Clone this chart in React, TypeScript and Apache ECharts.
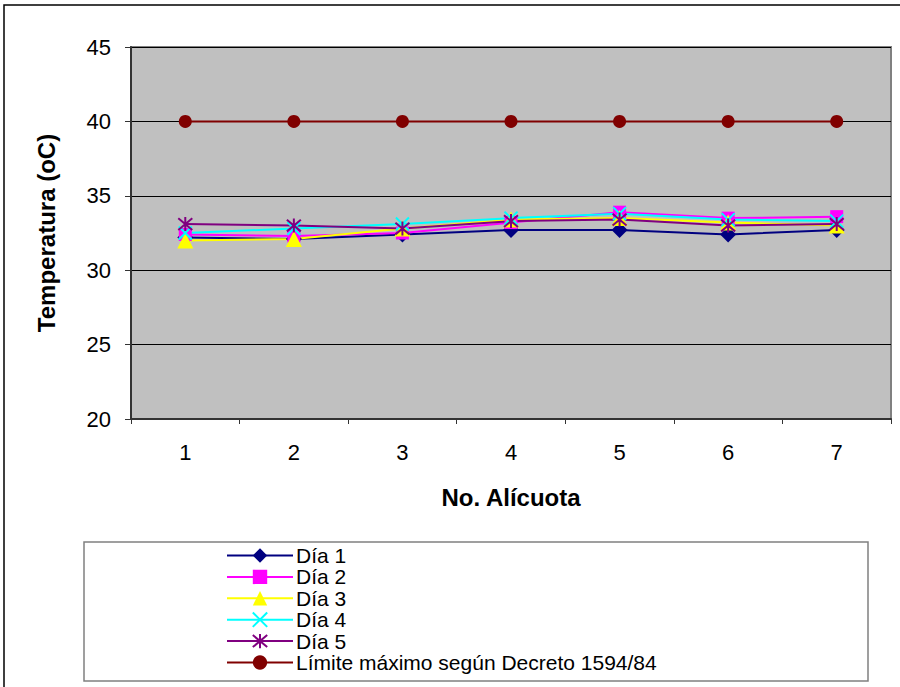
import React, { useEffect, useRef } from "react";
import * as echarts from "echarts";

const categories = ["1", "2", "3", "4", "5", "6", "7"];
const dia1 = [32.2, 32.1, 32.4, 32.7, 32.7, 32.4, 32.7];
const dia2 = [32.4, 32.3, 32.5, 33.2, 33.9, 33.5, 33.6];
const dia3 = [32.0, 32.1, 32.8, 33.4, 33.5, 33.2, 33.0];
const dia4 = [32.5, 32.8, 33.1, 33.5, 33.8, 33.4, 33.3];
const dia5 = [33.1, 33.0, 32.8, 33.3, 33.4, 33.0, 33.1];
const limite = [40, 40, 40, 40, 40, 40, 40];

const FONT = "'Liberation Sans', Arial, sans-serif";
const X_PATH = "path://M0 0 L10 10 M10 0 L0 10";
const STAR_PATH = "path://M0 0 L10 10 M10 0 L0 10 M5 -1 L5 11";

export default function App() {
  const ref = useRef<HTMLDivElement>(null);
  useEffect(() => {
    const chart = echarts.init(ref.current!, null, { renderer: "svg" });
    const mk = (name: string, data: number[], color: string, symbol: string, size: number, stroke = false) => ({
      name,
      type: "line",
      data,
      symbol,
      symbolSize: size,
      lineStyle: { color, width: 2 },
      itemStyle: stroke
        ? { color: "none", borderColor: color, borderWidth: 2 }
        : { color, borderColor: color, borderWidth: 0 },
      emphasis: { disabled: true },
    });
    chart.setOption({
      animation: false,
      textStyle: { fontFamily: FONT },
      graphic: [
        { type: "rect", shape: { x: 4, y: 5, width: 1000, height: 1000 }, style: { fill: "none", stroke: "#000", lineWidth: 1.5 }, silent: true },
        { type: "rect", shape: { x: 84, y: 542, width: 784, height: 139 }, style: { fill: "#fff", stroke: "#808080", lineWidth: 1.5 }, silent: true },
      ],
      grid: {
        left: 131,
        top: 47,
        right: 9,
        bottom: 268,
        show: true,
        backgroundColor: "#C0C0C0",
        borderColor: "#808080",
        borderWidth: 2,
      },
      legend: {
        orient: "vertical",
        left: 226,
        top: 545,
        height: 140,
        itemWidth: 66,
        itemHeight: 18,
        itemGap: 0.4,
        padding: 0,
        textStyle: { fontSize: 21, fontFamily: FONT, color: "#000", padding: [0, 0, 0, -2] },
        data: ["Día 1", "Día 2", "Día 3", "Día 4", "Día 5", "Límite máximo según Decreto 1594/84"],
      },
      xAxis: {
        type: "category",
        data: categories,
        boundaryGap: true,
        name: "No. Alícuota",
        nameLocation: "middle",
        nameGap: 66,
        nameTextStyle: { fontSize: 24, fontWeight: "bold", color: "#000", fontFamily: FONT },
        axisLine: { lineStyle: { color: "#333", width: 2 } },
        axisTick: { show: true, length: 5, lineStyle: { color: "#333" } },
        axisLabel: { fontSize: 22, color: "#000", margin: 22, fontFamily: FONT },
        splitLine: { show: false },
      },
      yAxis: {
        type: "value",
        min: 20,
        max: 45,
        interval: 5,
        name: "Temperatura (oC)",
        nameLocation: "middle",
        nameGap: 73,
        nameTextStyle: { fontSize: 24, fontWeight: "bold", color: "#000", fontFamily: FONT },
        axisLine: { show: true, lineStyle: { color: "#333", width: 2 } },
        axisTick: { show: true, length: 6, lineStyle: { color: "#333" } },
        axisLabel: { fontSize: 22, color: "#000", margin: 20, fontFamily: FONT },
        splitLine: { show: true, lineStyle: { color: "#000", width: 1 } },
      },
      series: [
        mk("Día 1", dia1, "#000080", "diamond", 16),
        mk("Día 2", dia2, "#FF00FF", "rect", 13),
        mk("Día 3", dia3, "#FFFF00", "triangle", 16),
        mk("Día 4", dia4, "#00FFFF", X_PATH, 13, true),
        mk("Día 5", dia5, "#800080", STAR_PATH, 14, true),
        mk("Límite máximo según Decreto 1594/84", limite, "#800000", "circle", 13),
      ],
    });
    return () => chart.dispose();
  }, []);
  return <div ref={ref} style={{ width: 900, height: 687, position: "absolute", left: 0, top: 0 }} />;
}
